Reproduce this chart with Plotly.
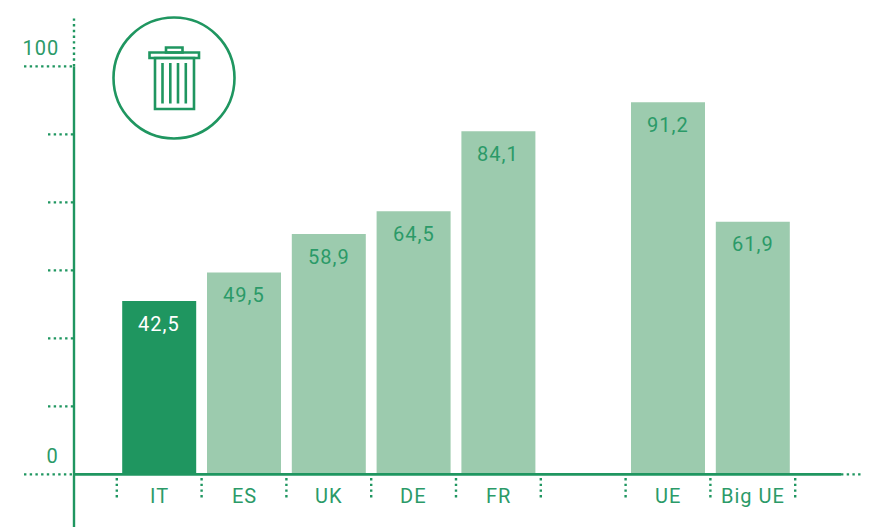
import plotly.graph_objects as go

categories = ["IT", "ES", "UK", "DE", "FR", "UE", "Big UE"]
positions = [0, 1, 2, 3, 4, 6, 7]
values = [42.5, 49.5, 58.9, 64.5, 84.1, 91.2, 61.9]
labels = ["42,5", "49,5", "58,9", "64,5", "84,1", "91,2", "61,9"]
y_ticks = [0, 16.667, 33.333, 50, 66.667, 83.333, 100]
y_tick_text = {0: "0", 100: "100"}

OFF = 8  # page margin around the figure
W, H = 870 - OFF, 527 - OFF
GREEN = "#1f9660"
LIGHT = "#9ccbae"
TEXT = "#2b9a68"
FONT = "Roboto"
X0, XS = 159.2, 84.8   # reference pixel of category 0, pixels per category
Y0, YS = 474.4, 4.08   # reference pixel of value 0, pixels per unit


def px(p):
    return (p - X0) / XS


def py(p):
    return (Y0 - p) / YS


colors = [GREEN] + [LIGHT] * 6
fig = go.Figure(go.Bar(x=positions, y=values, width=74 / XS,
                       marker=dict(color=colors, line_width=0), hoverinfo="skip"))

shapes = []


def line(x0, y0, x1, y1, dotted=False, width=2.4):
    shapes.append(dict(type="line", x0=x0, y0=y0, x1=x1, y1=y1, layer="above",
                       line=dict(color=GREEN, width=width, dash="2.4px,3.3px" if dotted else "solid")))


# value axis
line(px(74), py(527), px(74), 100)
line(px(74), 100, px(74), py(15), True)
# category axis
line(px(74), 0, px(841), 0, False, 2.6)
line(px(841), 0, px(870), 0, True)
# value ticks
for t in y_ticks:
    start = 24 if t in y_tick_text else 48
    line(px(start), t, px(74), t, True)
# category ticks
for b in [-0.5, 0.5, 1.5, 2.5, 3.5, 4.5, 5.5, 6.5, 7.5]:
    line(b, py(478), b, py(500), True)


# icon in paper coordinates
def pxp(p):
    return (p - OFF) / W


def pyp(p):
    return 1 - (p - OFF) / H


def prect(kind, x0, y0, x1, y1, w=2.6):
    shapes.append(dict(type=kind, xref="paper", yref="paper", x0=pxp(x0), x1=pxp(x1),
                       y0=pyp(y0), y1=pyp(y1), line=dict(color=GREEN, width=w), layer="above"))


prect("circle", 113.5, 17.5, 234.5, 138.5, 2.6)
prect("rect", 149.5, 52.5, 199, 58)
prect("rect", 166, 47.5, 182.5, 52.5)
prect("rect", 155, 58, 194, 109)
for sx in [162.5, 170.3, 178, 185.8]:
    prect("line", sx, 63, sx, 103.5)

ann = []
for p, v, s, c in zip(positions, values, labels, categories):
    ann.append(dict(x=p, y=v, text=s, showarrow=False, yshift=-22.5, xanchor="center", yanchor="middle",
                    font=dict(family=FONT, size=20, color="#ffffff" if c == "IT" else TEXT)))
    ann.append(dict(x=p, y=0, text=c, showarrow=False, yshift=-21.5, xanchor="center", yanchor="middle",
                    font=dict(family=FONT, size=20, color=TEXT)))
for t, s in y_tick_text.items():
    ann.append(dict(x=px(60), y=t, text=s, showarrow=False, yshift=18.5, xanchor="right", yanchor="middle",
                    font=dict(family=FONT, size=20, color=TEXT)))

fig.update_layout(
    width=W, height=H, margin=dict(l=0, r=0, t=0, b=0),
    paper_bgcolor="#ffffff", plot_bgcolor="#ffffff", showlegend=False,
    xaxis=dict(range=[px(OFF), px(OFF + W)], visible=False, fixedrange=True),
    yaxis=dict(range=[py(OFF + H), py(OFF)], visible=False, fixedrange=True),
    shapes=shapes, annotations=ann,
)
tracking = "document.querySelectorAll('.annotation-text').forEach(function(t){t.style.letterSpacing='1px';});"
fig.write_html("out.html", config={"displayModeBar": False}, post_script=tracking)
